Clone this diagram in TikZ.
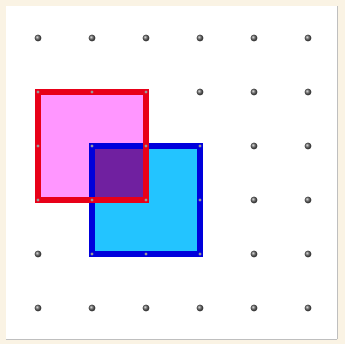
\documentclass[tikz,border=0pt]{standalone}
\usepackage{amsmath}
\usepackage{amssymb}
\usepackage{tikz}

\definecolor{paper}{RGB}{250,243,228}
\definecolor{pinkfill}{RGB}{255,150,255}
\definecolor{cyanfill}{RGB}{35,196,255}
\definecolor{overlap}{RGB}{112,32,160}
\definecolor{redline}{RGB}{232,0,24}
\definecolor{blueline}{RGB}{0,0,220}
\definecolor{peg}{RGB}{100,100,100}

\begin{document}
\begin{tikzpicture}
    \useasboundingbox (-0.704,-0.667) rectangle (5.685,5.704) ;
    \fill[paper] (-0.704,-0.667) rectangle (5.685,5.704) ;
    \fill[white] (-0.593,-0.574) rectangle (5.537,5.593) ;
    \draw[black!25, thin] (5.537,-0.574) -- (5.537,5.593) ;
    \draw[black!25, thin] (-0.593,-0.574) -- (5.537,-0.574) ;
    % pegs of the board
    \foreach \x in {0,...,5} \shade[ball color=peg] (\x,5) circle (1.8pt) ;
    \foreach \x in {3,4,5} \shade[ball color=peg] (\x,4) circle (1.8pt) ;
    \foreach \x in {4,5} \shade[ball color=peg] (\x,3) circle (1.8pt) ;
    \foreach \x in {4,5} \shade[ball color=peg] (\x,2) circle (1.8pt) ;
    \foreach \x in {0,4,5} \shade[ball color=peg] (\x,1) circle (1.8pt) ;
    \foreach \x in {0,...,5} \shade[ball color=peg] (\x,0) circle (1.8pt) ;
    % the two squares
    \fill[pinkfill] (0,2) rectangle (2,4) ;
    \fill[cyanfill] (1,1) rectangle (3,3) ;
    \fill[overlap] (1,2) rectangle (2,3) ;
    \draw[blueline, line width=3.2pt] (1,1) rectangle (3,3) ;
    \draw[redline, line width=3.2pt] (0,2) rectangle (2,4) ;
    % pegs under the bands
    \foreach \p in {(0,2),(0,3),(0,4),(1,4),(2,4),(2,3),(2,2),(1,2),(1,3),(3,3),(3,2),(3,1),(2,1),(1,1)}
        \fill[black!40] \p circle (0.9pt) ;
\end{tikzpicture}
\end{document}
